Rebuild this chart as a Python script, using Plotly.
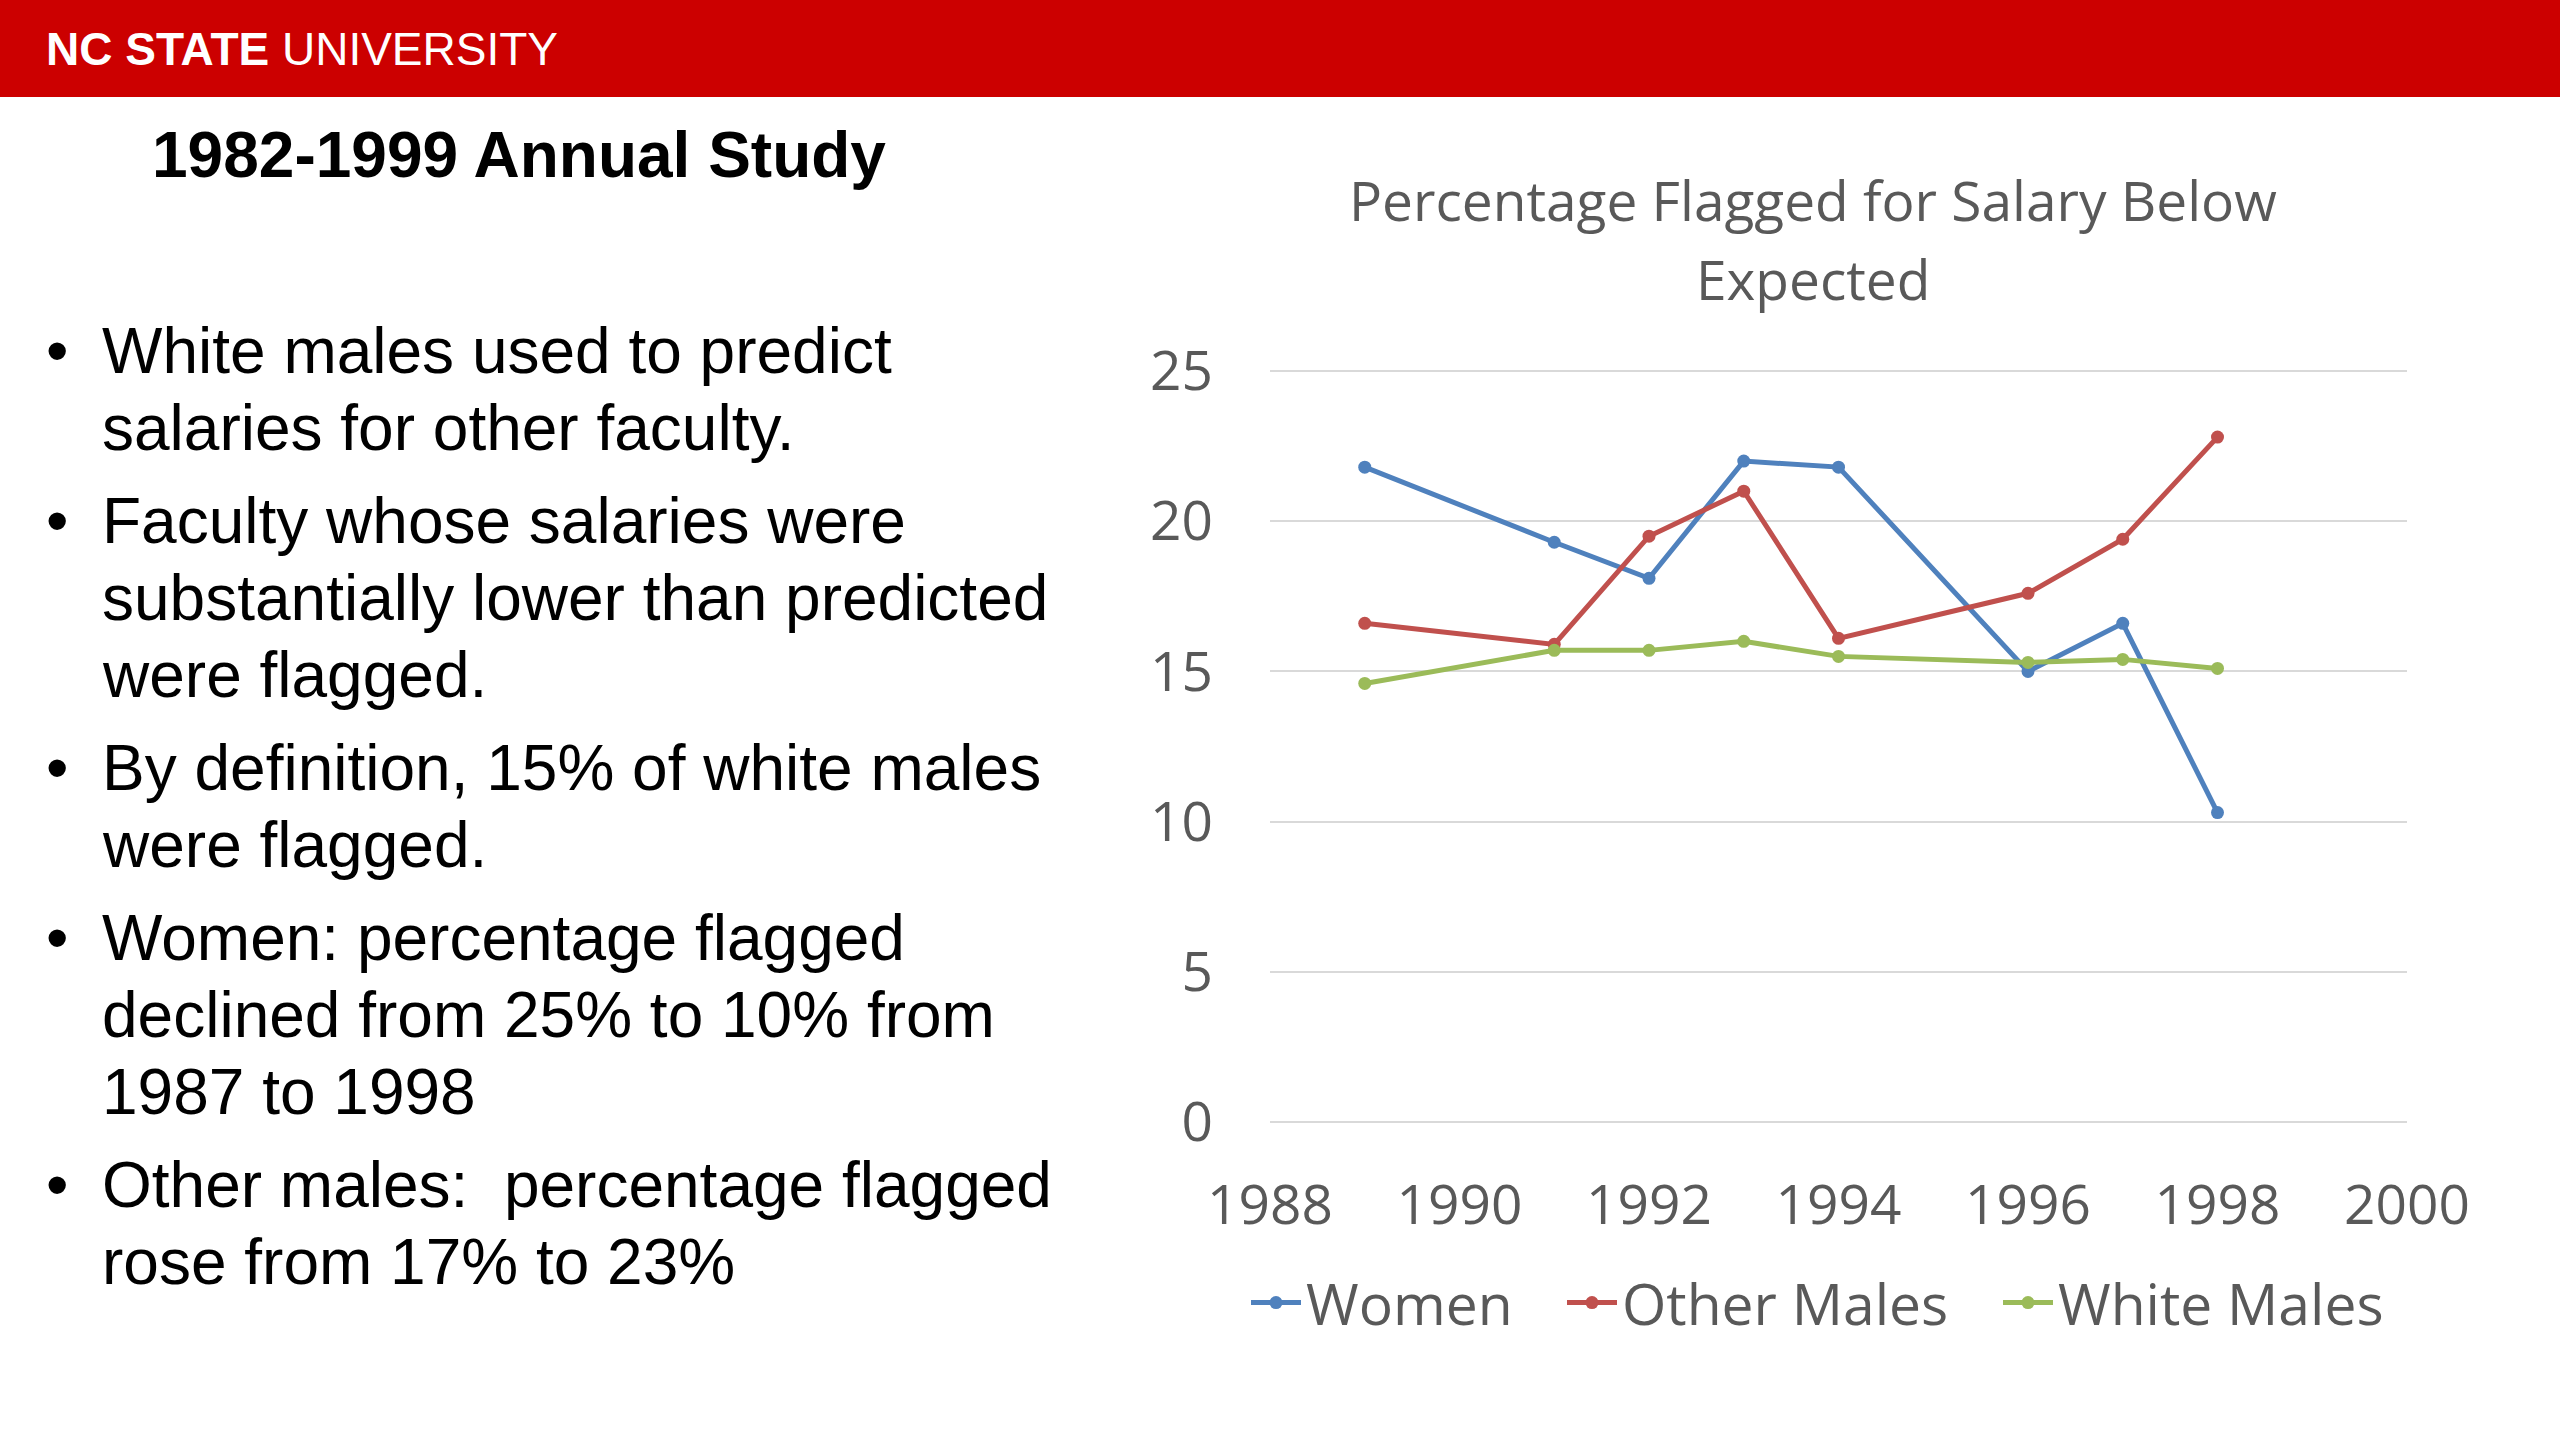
import plotly.graph_objects as go

# ---- data ----
years = [1989, 1991, 1992, 1993, 1994, 1996, 1997, 1998]
women = [21.8, 19.3, 18.1, 22.0, 21.8, 15.0, 16.6, 10.3]
other_males = [16.6, 15.9, 19.5, 21.0, 16.1, 17.6, 19.4, 22.8]
white_males = [14.6, 15.7, 15.7, 16.0, 15.5, 15.3, 15.4, 15.1]
series_names = ["Women", "Other Males", "White Males"]
series_colors = ["#4F81BD", "#C0504D", "#9BBB59"]
x_ticks = [1988, 1990, 1992, 1994, 1996, 1998, 2000]
y_ticks = [0, 5, 10, 15, 20, 25]

title_lines = ["Percentage Flagged for Salary Below", "Expected"]
header_bold = "NC STATE"
header_regular = "UNIVERSITY"
heading = "1982-1999 Annual Study"
bullets = [
    ["White males used to predict", "salaries for other faculty."],
    ["Faculty whose salaries were", "substantially lower than predicted", "were flagged."],
    ["By definition, 15% of white males", "were flagged."],
    ["Women: percentage flagged", "declined from 25% to 10% from", "1987 to 1998"],
    ["Other males:  percentage flagged", "rose from 17% to 23%"],
]

# ---- layout geometry (pixels) ----
W, H = 2560, 1440
Y0_PX, Y25_PX = 1122, 371          # pixel rows of y=0 and y=25
Y_PAD = 0.1                         # small range padding so edge gridlines are drawn
unit = (Y0_PX - Y25_PX) / 25.0
L, R = 1270, 2407
T = Y25_PX - Y_PAD * unit
B = Y0_PX + Y_PAD * unit
PW, PH = R - L, B - T


def px(xp):
    return (xp - L) / PW


def py(yp):
    return (B - yp) / PH


legend_ids = ["legend", "legend2", "legend3"]
legend_x = [1246, 1562, 1998]

fig = go.Figure()
for name, vals, col, lid in zip(series_names, [women, other_males, white_males],
                                series_colors, legend_ids):
    fig.add_trace(go.Scatter(
        x=years, y=vals, name=name, mode="lines+markers",
        line=dict(color=col, width=5),
        marker=dict(color=col, size=13, symbol="circle"),
        legend=lid,
    ))

chart_font = "Open Sans, Noto Sans, sans-serif"
gray = "#595959"
text_font = "Liberation Sans, Arial, sans-serif"

shapes = [
    dict(type="rect", xref="paper", yref="paper",
         x0=px(0), x1=px(W), y0=py(97), y1=py(0),
         fillcolor="#CC0000", line=dict(width=0), layer="below"),
]

annotations = [
    dict(text=f"<b>{header_bold}</b> {header_regular}", xref="paper", yref="paper",
         x=px(44), y=py(49), xanchor="left", yanchor="middle", showarrow=False,
         font=dict(family=text_font, size=46, color="white")),
    dict(text=f"<b>{heading}</b>", xref="paper", yref="paper",
         x=px(150), y=py(155), xanchor="left", yanchor="middle", showarrow=False,
         font=dict(family=text_font, size=64, color="black")),
]

for line, ty in zip(title_lines, [199, 278]):
    annotations.append(dict(text=line, xref="paper", yref="paper",
                            x=px(1813), y=py(ty), xanchor="center", yanchor="middle",
                            showarrow=False,
                            font=dict(family=chart_font, size=55, color=gray)))

line_gap = 77
bullet_gap = 93
y = 351
for b in bullets:
    annotations.append(dict(text="•", xref="paper", yref="paper",
                            x=px(44), y=py(y), xanchor="left", yanchor="middle",
                            showarrow=False,
                            font=dict(family=text_font, size=64, color="black")))
    for i, line in enumerate(b):
        annotations.append(dict(text=line, xref="paper", yref="paper",
                                x=px(100), y=py(y), xanchor="left", yanchor="middle",
                                showarrow=False,
                                font=dict(family=text_font, size=64, color="black")))
        if i < len(b) - 1:
            y += line_gap
    y += bullet_gap

legend_common = dict(orientation="h", xanchor="left", yanchor="middle", y=py(1303),
                     itemwidth=50,
                     font=dict(family=chart_font, size=57, color=gray),
                     bgcolor="rgba(0,0,0,0)")

fig.update_layout(
    width=W, height=H,
    margin=dict(l=L, r=W - R, t=T, b=H - B, pad=0),
    paper_bgcolor="white", plot_bgcolor="white",
    font=dict(family=chart_font, size=55, color=gray),
    xaxis=dict(range=[1988, 2000], tickvals=x_ticks, showgrid=False, zeroline=False,
               showline=False, ticks="outside", ticklen=32, tickcolor="rgba(0,0,0,0)",
               tickfont=dict(family=chart_font, size=55, color=gray)),
    yaxis=dict(range=[-Y_PAD, 25 + Y_PAD], tickvals=y_ticks, showgrid=True,
               gridcolor="#D9D9D9", gridwidth=2, zeroline=False, showline=False,
               ticks="outside", ticklen=45, tickcolor="rgba(0,0,0,0)",
               tickfont=dict(family=chart_font, size=55, color=gray)),
    legend=dict(x=px(legend_x[0]), **legend_common),
    legend2=dict(x=px(legend_x[1]), **legend_common),
    legend3=dict(x=px(legend_x[2]), **legend_common),
    shapes=shapes,
    annotations=annotations,
    showlegend=True,
)

fig.write_html("out.html", config={"displayModeBar": False},
               post_script="document.body.style.margin='0';")
